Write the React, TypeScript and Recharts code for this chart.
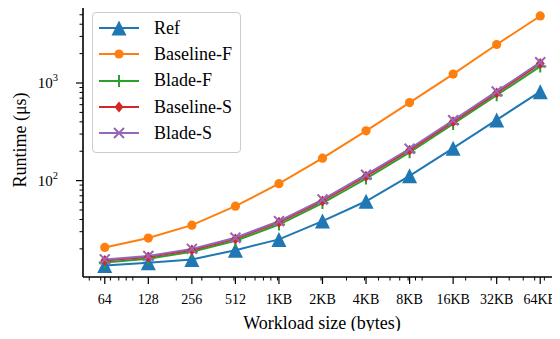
import React from 'react';
import { Legend, Line, LineChart, XAxis, YAxis } from 'recharts';

// workload sizes in bytes and their tick labels
const sizes = [64, 128, 256, 512, 1024, 2048, 4096, 8192, 16384, 32768, 65536];
const sizeLabels = ['64', '128', '256', '512', '1KB', '2KB', '4KB', '8KB', '16KB', '32KB', '64KB'];

// runtimes in microseconds
const refUs = [13.5, 14.4, 15.6, 19.4, 25, 38.5, 61.5, 112, 215, 419, 815];
const baselineFUs = [20.7, 25.8, 35, 54.7, 93, 170, 324, 630, 1235, 2480, 4860];
const bladeFUs = [14.5, 15.8, 18.7, 24.2, 35.5, 59, 105, 195, 380, 750, 1480];
const baselineSUs = [15.2, 16.5, 19.5, 25.3, 37.5, 62, 111, 205, 400, 790, 1580];
const bladeSUs = [15.6, 16.9, 20, 26, 38.5, 64, 115, 212, 415, 820, 1630];

const yMajor = [100, 1000];
const yMinor = [20, 30, 40, 50, 60, 70, 80, 90, 200, 300, 400, 500, 600, 700, 800, 900, 2000, 3000, 4000, 5000, 6000];
const xMinor = [
  50, 60, 70, 80, 90, 100, 200, 300, 400, 500, 600, 700, 800, 900,
  1000, 2000, 3000, 4000, 5000, 6000, 7000, 8000, 9000,
  10000, 20000, 30000, 40000, 50000, 60000, 70000, 80000, 90000,
];

const FONT = 'Liberation Serif';

const data = sizes.map((s, i) => ({
  size: s,
  ref: refUs[i],
  baselineF: baselineFUs[i],
  bladeF: bladeFUs[i],
  baselineS: baselineSUs[i],
  bladeS: bladeSUs[i],
}));

type MarkerProps = { cx: number; cy: number; color: string };

const Triangle = ({ cx, cy, color }: MarkerProps) => (
  <polygon points={`${cx},${cy - 7.5} ${cx - 7.5},${cy + 7.5} ${cx + 7.5},${cy + 7.5}`} fill={color} />
);
const Circle = ({ cx, cy, color }: MarkerProps) => <circle cx={cx} cy={cy} r={4.6} fill={color} />;
const Plus = ({ cx, cy, color }: MarkerProps) => (
  <path d={`M${cx - 6},${cy}H${cx + 6}M${cx},${cy - 6}V${cy + 6}`} stroke={color} strokeWidth={2} fill="none" />
);
const Diamond = ({ cx, cy, color }: MarkerProps) => (
  <polygon points={`${cx},${cy - 5.5} ${cx + 4.5},${cy} ${cx},${cy + 5.5} ${cx - 4.5},${cy}`} fill={color} />
);
const Cross = ({ cx, cy, color }: MarkerProps) => (
  <path d={`M${cx - 5},${cy - 5}L${cx + 5},${cy + 5}M${cx - 5},${cy + 5}L${cx + 5},${cy - 5}`} stroke={color} strokeWidth={2} fill="none" />
);

const series = [
  { key: 'ref', name: 'Ref', color: '#1f77b4', Marker: Triangle },
  { key: 'baselineF', name: 'Baseline-F', color: '#ff7f0e', Marker: Circle },
  { key: 'bladeF', name: 'Blade-F', color: '#2ca02c', Marker: Plus },
  { key: 'baselineS', name: 'Baseline-S', color: '#d62728', Marker: Diamond },
  { key: 'bladeS', name: 'Blade-S', color: '#9467bd', Marker: Cross },
];

function XTick(props: any) {
  const { x, y, payload } = props;
  const i = sizes.indexOf(payload.value);
  if (i < 0) return <line x1={x} x2={x} y1={y} y2={y + 3.5} stroke="#000" strokeWidth={1} />;
  return (
    <g>
      <line x1={x} x2={x} y1={y} y2={y + 7} stroke="#000" strokeWidth={1.2} />
      <text x={x} y={y + 27} textAnchor="middle" fontSize={14} fontFamily={FONT} fill="#000">
        {sizeLabels[i]}
      </text>
    </g>
  );
}

function YTick(props: any) {
  const { x, y, payload } = props;
  if (!yMajor.includes(payload.value)) {
    return <line x1={x - 3.5} x2={x} y1={y} y2={y} stroke="#000" strokeWidth={1} />;
  }
  const exp = Math.round(Math.log10(payload.value));
  return (
    <g>
      <line x1={x - 7} x2={x} y1={y} y2={y} stroke="#000" strokeWidth={1.2} />
      <text x={x - 25} y={y + 5} textAnchor="end" fontSize={15} fontFamily={FONT} fill="#000">
        <tspan>10</tspan>
        <tspan dy={-7} fontSize={10.5}>{exp}</tspan>
      </text>
    </g>
  );
}

function LegendBox() {
  return (
    <div
      style={{
        width: 147,
        height: 137,
        border: '1px solid #cccccc',
        borderRadius: 4,
        background: 'rgba(255,255,255,0.8)',
        paddingTop: 2,
        boxSizing: 'content-box',
      }}
    >
      {series.map((s) => (
        <div key={s.key} style={{ display: 'flex', alignItems: 'center', height: 26.3 }}>
          <svg width={58} height={22} style={{ overflow: 'visible' }}>
            <line x1={6} x2={46} y1={11} y2={11} stroke={s.color} strokeWidth={2} />
            <s.Marker cx={26} cy={11} color={s.color} />
          </svg>
          <span style={{ fontFamily: FONT, fontSize: 18, color: '#000', marginLeft: 3 }}>{s.name}</span>
        </div>
      ))}
    </div>
  );
}

export default function App() {
  return (
    <div style={{ margin: -8, height: 339, overflow: 'hidden', background: '#fff', fontFamily: FONT }}>
      <LineChart width={570} height={339} data={data} margin={{ top: 3, right: 8, bottom: 0, left: 0 }}>
        <XAxis
          dataKey="size"
          type="number"
          scale="log"
          domain={[64 / Math.SQRT2, 65536 * Math.SQRT2]}
          allowDataOverflow
          ticks={[...sizes, ...xMinor]}
          interval={0}
          tick={<XTick />}
          tickLine={false}
          tickSize={0}
          tickMargin={0}
          height={62}
          axisLine={{ stroke: '#000', strokeWidth: 1.6 }}
          label={{
            content: () => (
              <text x={322} y={323} textAnchor="middle" dominantBaseline="central" fontSize={18} fontFamily={FONT} fill="#000">
                Workload size (bytes)
              </text>
            ),
          }}
        />
        <XAxis xAxisId="top" orientation="top" dataKey="size" type="number" scale="log" domain={[64 / Math.SQRT2, 65536 * Math.SQRT2]} allowDataOverflow height={0} tick={false} tickLine={false} axisLine={{ stroke: '#000', strokeWidth: 1.6 }} />
        <YAxis
          type="number"
          scale="log"
          domain={[10.3, 6600]}
          allowDataOverflow
          ticks={[...yMajor, ...yMinor]}
          interval={0}
          tick={<YTick />}
          tickLine={false}
          tickSize={0}
          tickMargin={0}
          width={83}
          axisLine={{ stroke: '#000', strokeWidth: 1.6 }}
          label={{
            content: () => (
              <text x={20} y={140} transform="rotate(-90 20 140)" textAnchor="middle" dominantBaseline="central" fontSize={18} fontFamily={FONT} fill="#000">
                Runtime (μs)
              </text>
            ),
          }}
        />
        <YAxis yAxisId="right" orientation="right" type="number" scale="log" domain={[10.3, 6600]} allowDataOverflow width={0} tick={false} tickLine={false} axisLine={{ stroke: '#000', strokeWidth: 1.6 }} />
        <Legend
          layout="vertical"
          align="center"
          verticalAlign="middle"
          content={() => <LegendBox />}
          wrapperStyle={{ left: 92, top: 12, width: 'auto', height: 'auto' }}
        />
        {series.map((s) => (
          <Line
            key={s.key}
            dataKey={s.key}
            name={s.name}
            stroke={s.color}
            strokeWidth={2}
            isAnimationActive={false}
            dot={(p: any) => <s.Marker key={`${s.key}-${p.index}`} cx={p.cx} cy={p.cy} color={s.color} />}
            activeDot={false}
          />
        ))}
      </LineChart>
    </div>
  );
}
